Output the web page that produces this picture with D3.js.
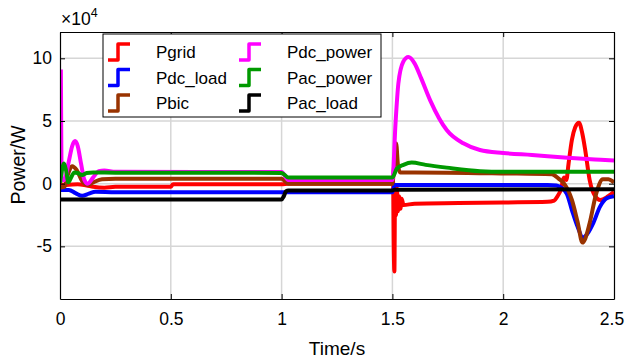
<!DOCTYPE html>
<html>
<head>
<meta charset="utf-8">
<script src="https://cdn.jsdelivr.net/npm/d3@7"></script>
<style>
  body { margin: 0; background: #fff; }
  text { font-family: "Liberation Sans", Arial, sans-serif; }
</style>
</head>
<body>
<div id="chart"></div>
<script>
// values are in units of 1e4 W
const xTicks = [0, 0.5, 1, 1.5, 2, 2.5];
const yTicks = [-5, 0, 5, 10];
const seriesNames = ['Pgrid', 'Pdc_load', 'Pbic', 'Pdc_power', 'Pac_power', 'Pac_load'];
const seriesColors = ['#ff0000', '#0000ff', '#993300', '#ff00ff', '#009900', '#000000'];

const pgrid = [[0,-0.05],[0.03,-0.1],[0.08,-0.05],[0.12,-0.15],[0.15,-0.25],[0.2,-0.32],[0.25,-0.25],[0.5,-0.25],[0.51,-0.05],
  [1.0,-0.05],[1.03,0.0],[1.5,0.0],[1.503,0.3],[1.506,-5.0],[1.509,-7.0],[1.512,-0.5],[1.516,-2.5],[1.52,-0.3],
  [1.525,-2.2],[1.53,-1.0],[1.536,-2.0],[1.542,-1.2],[1.55,-1.7],[1.6,-1.6],[1.8,-1.55],[2.0,-1.5],[2.2,-1.45],
  [2.23,-1.35],[2.245,-1.0],[2.26,-0.5],[2.275,0.5],[2.285,0.3],[2.295,1.6],[2.31,3.5],[2.325,4.5],[2.342,4.87],
  [2.357,4.0],[2.37,2.7],[2.39,0.3],[2.415,-1.0],[2.437,-1.3],[2.47,-1.05],[2.5,-0.65]];
const pdcLoad = [[0,-0.5],[0.04,-0.5],[0.07,-0.75],[0.1,-0.97],[0.13,-0.8],[0.16,-0.65],[0.25,-0.68],[1.0,-0.68],
  [1.5,-0.68],[1.51,-0.1],[2.2,-0.1],[2.24,-0.15],[2.286,-0.77],[2.31,-2.1],[2.335,-3.4],[2.36,-4.3],[2.38,-4.0],
  [2.406,-3.16],[2.437,-1.83],[2.467,-1.17],[2.5,-1.0]];
const pbic = [[0,-0.3],[0.02,-0.25],[0.035,0.7],[0.055,1.4],[0.075,1.1],[0.1,0.2],[0.125,-0.1],[0.15,0.1],[0.19,0.35],
  [0.25,0.4],[1.0,0.4],[1.03,0.0],[1.5,0.0],[1.508,1.5],[1.517,3.2],[1.525,1.5],[1.535,0.9],[1.6,0.9],[2.0,0.82],
  [2.22,0.75],[2.25,0.4],[2.275,0.0],[2.31,-1.3],[2.335,-3.0],[2.358,-4.7],[2.37,-4.4],[2.39,-3.16],[2.42,-0.77],
  [2.45,0.35],[2.475,0.35],[2.5,0.1]];
const pdcPower = [[0.004,9.1],[0.008,0.3],[0.02,0.3],[0.04,1.8],[0.055,3.0],[0.068,3.4],[0.08,3.0],[0.095,1.6],[0.11,0.3],
  [0.125,0.0],[0.15,0.5],[0.175,1.0],[0.2,1.05],[0.25,0.95],[1.0,0.93],[1.03,0.3],[1.5,0.3],[1.514,4.8],[1.527,8.0],
  [1.549,9.73],[1.572,10.1],[1.6,9.6],[1.63,8.4],[1.67,6.67],[1.745,4.28],[1.82,3.22],[1.895,2.69],[2.0,2.45],
  [2.13,2.29],[2.29,2.07],[2.44,1.91],[2.5,1.85]];
const pacPower = [[0,0.05],[0.008,1.0],[0.018,1.6],[0.028,1.0],[0.038,0.1],[0.05,0.5],[0.065,0.9],[0.08,0.85],
  [0.1,0.7],[0.12,0.85],[0.15,0.9],[0.25,0.88],[1.0,0.86],[1.03,0.5],[1.5,0.5],[1.52,1.2],[1.55,1.5],[1.587,1.68],
  [1.65,1.5],[1.745,1.28],[1.895,1.0],[2.0,0.95],[2.5,0.95]];
const pacLoad = [[0,-1.27],[1.0,-1.27],[1.01,-1.0],[1.02,-0.6],[1.03,-0.55],[1.5,-0.55],[1.51,-0.48],[2.5,-0.45]];

const allSeries = [pgrid, pdcLoad, pbic, pdcPower, pacPower, pacLoad];

const width = 625, height = 360;
const margin = {left: 60, right: 11, top: 32, bottom: 61};

const svg = d3.select('#chart').append('svg')
  .attr('width', width)
  .attr('height', height);

const x = d3.scaleLinear().domain([0, 2.5]).range([margin.left, width - margin.right]);
const y = d3.scaleLinear().domain([-9.2, 12.1]).range([height - margin.bottom, margin.top]);

// grid
svg.append('g').selectAll('line.gx')
  .data(xTicks.slice(1, -1))
  .join('line')
  .attr('x1', d => x(d)).attr('x2', d => x(d))
  .attr('y1', y.range()[1]).attr('y2', y.range()[0])
  .attr('stroke', '#d6d6d6').attr('stroke-width', 1.5);
svg.append('g').selectAll('line.gy')
  .data(yTicks)
  .join('line')
  .attr('x1', x.range()[0]).attr('x2', x.range()[1])
  .attr('y1', d => y(d)).attr('y2', d => y(d))
  .attr('stroke', '#d6d6d6').attr('stroke-width', 1.5);

svg.append('clipPath').attr('id', 'clip')
  .append('rect')
  .attr('x', x.range()[0]).attr('y', y.range()[1])
  .attr('width', x.range()[1] - x.range()[0])
  .attr('height', y.range()[0] - y.range()[1]);

const line = d3.line()
  .x(d => x(d[0]))
  .y(d => y(d[1]))
  .curve(d3.curveMonotoneX);

svg.append('g').attr('clip-path', 'url(#clip)')
  .selectAll('path')
  .data(allSeries)
  .join('path')
  .attr('d', line)
  .attr('fill', 'none')
  .attr('stroke', (d, i) => seriesColors[i])
  .attr('stroke-width', 4)
  .attr('stroke-linejoin', 'round');

// axes (box with inward ticks)
const fmt = d => String(d);
const xAxisG = svg.append('g')
  .attr('transform', `translate(0,${y.range()[0]})`)
  .call(d3.axisBottom(x).tickValues(xTicks).tickFormat(fmt).tickSizeInner(-5).tickSizeOuter(0).tickPadding(14));
svg.append('g')
  .attr('transform', `translate(0,${y.range()[1]})`)
  .call(d3.axisTop(x).tickValues(xTicks).tickFormat('').tickSizeInner(-5).tickSizeOuter(0));
svg.append('g')
  .attr('transform', `translate(${x.range()[0]},0)`)
  .call(d3.axisLeft(y).tickValues(yTicks).tickFormat(fmt).tickSizeInner(-5).tickSizeOuter(0).tickPadding(8));
svg.append('g')
  .attr('transform', `translate(${x.range()[1]},0)`)
  .call(d3.axisRight(y).tickValues(yTicks).tickFormat('').tickSizeInner(-5).tickSizeOuter(0));

svg.selectAll('.domain').attr('stroke', '#000').attr('stroke-width', 1.2);
svg.selectAll('.tick line').attr('stroke', '#000');
svg.selectAll('.tick text')
  .attr('font-size', 17.5)
  .attr('font-family', '"Liberation Sans", Arial, sans-serif')
  .attr('fill', '#000');
// last label sits against the page edge
xAxisG.selectAll('.tick text').filter(d => d === 2.5).attr('dx', -2.5);

// exponent label
const expo = svg.append('text')
  .attr('x', x.range()[0] + 1).attr('y', 25)
  .attr('font-size', 17.5).attr('fill', '#000');
expo.append('tspan').text('×10');
expo.append('tspan').attr('dy', -8).attr('font-size', 12.5).text('4');

// axis titles
svg.append('text')
  .attr('x', (x.range()[0] + x.range()[1]) / 2).attr('y', 355)
  .attr('text-anchor', 'middle')
  .attr('font-size', 19)
  .text('Time/s');
svg.append('text')
  .attr('transform', `translate(25,165) rotate(-90)`)
  .attr('text-anchor', 'middle')
  .attr('font-size', 19.5)
  .text('Power/W');

// legend
const legend = svg.append('g');
legend.append('rect')
  .attr('x', 103).attr('y', 34)
  .attr('width', 278).attr('height', 83)
  .attr('fill', '#fff').attr('stroke', '#000').attr('stroke-width', 1);

const colX = [108, 239];
const rowY = [52, 77.5, 103];
seriesNames.forEach((name, i) => {
  const cx = colX[Math.floor(i / 3)];
  const cy = rowY[i % 3];
  legend.append('path')
    .attr('d', `M${cx},${cy + 8}H${cx + 10}V${cy - 8}H${cx + 22}`)
    .attr('fill', 'none')
    .attr('stroke', seriesColors[i])
    .attr('stroke-width', 3.5)
    .attr('stroke-linejoin', 'round');
  legend.append('text')
    .attr('x', cx + 48).attr('y', cy + 6)
    .attr('font-size', 17)
    .attr('fill', '#000')
    .text(name);
});
</script>
</body>
</html>
